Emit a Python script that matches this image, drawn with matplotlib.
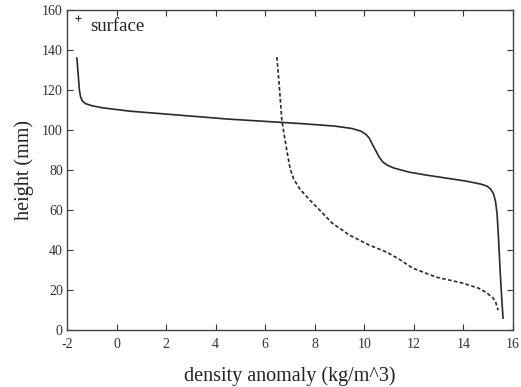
import numpy as np
import matplotlib.pyplot as plt

# solid profile (density anomaly kg/m^3, height mm)
rho_a = [-1.6, -1.55, -1.5, -1.45, -1.38, -1.25, -1.0, -0.6, 0.5, 2.5, 4.5, 5.8, 7.5, 8.8, 9.5, 9.85,
         10.05, 10.2, 10.3, 10.45, 10.6, 10.75, 10.95, 11.2, 11.8, 12.5, 13.3, 14.1, 14.7, 14.95,
         15.1, 15.22, 15.3, 15.36, 15.42, 15.48, 15.55, 15.6]
z_a = [136, 128, 120, 116.5, 114.5, 113.2, 112.2, 111.2, 109.5, 107.5, 105.5, 104.5, 103.2, 102, 100.8, 99.5,
       98, 96, 93.5, 90, 86.5, 84, 82.3, 81, 79, 77.5, 76, 74.5, 73, 72,
       70.5, 68, 64, 58, 45, 30, 15, 6]

# dashed profile
rho_b = [6.47, 6.55, 6.67, 6.8, 6.9, 7.0, 7.15, 7.4, 7.8, 8.2, 8.7, 9.4, 10.2, 10.9, 11.4, 11.95,
         12.9, 13.97, 14.6, 14.9, 15.2, 15.3, 15.4]
z_b = [136.5, 125, 105, 95, 88, 81, 75.5, 70.5, 65, 60, 53.5, 47.5, 42.5, 39, 35.5, 31,
       26.5, 23.5, 21, 19, 16, 14, 10]

plt.rcParams['font.family'] = ['Liberation Serif', 'DejaVu Serif']
plt.rcParams['axes.unicode_minus'] = False

fig = plt.figure(figsize=(5.21, 3.87), dpi=100)
ax = fig.add_axes([0.1286, 0.147, 0.856, 0.827])

ax.plot(rho_a, z_a, '-', color='#2a2a2a', lw=1.2)
ax.plot(rho_b, z_b, color='#2a2a2a', lw=1.2, linestyle=(0, (2.2, 1.4)))
ax.plot([-1.55], [156], '+', color='#2a2a2a', ms=4, mew=0.8)
ax.text(-1.05, 152, 'surface', fontsize=13.5, va='center', color='#222222')

ax.set_xlim(-2, 16)
ax.set_ylim(0, 160)
ax.set_xticks(np.arange(-2, 17, 2))
ax.set_yticks(np.arange(0, 161, 20))
ax.tick_params(direction='in', top=True, right=True, length=4, width=0.8,
               labelsize=10, colors='#333333')
ax.tick_params(axis='x', pad=6)
ax.tick_params(axis='y', pad=3)
for s in ax.spines.values():
    s.set_color('#444444')
    s.set_linewidth(1.0)

ax.set_xlabel('density anomaly (kg/m^3)', fontsize=14.5, color='#222222', labelpad=11)
ax.set_ylabel('height (mm)', fontsize=14.5, color='#222222', labelpad=6)

plt.savefig('out.png', dpi=100)
